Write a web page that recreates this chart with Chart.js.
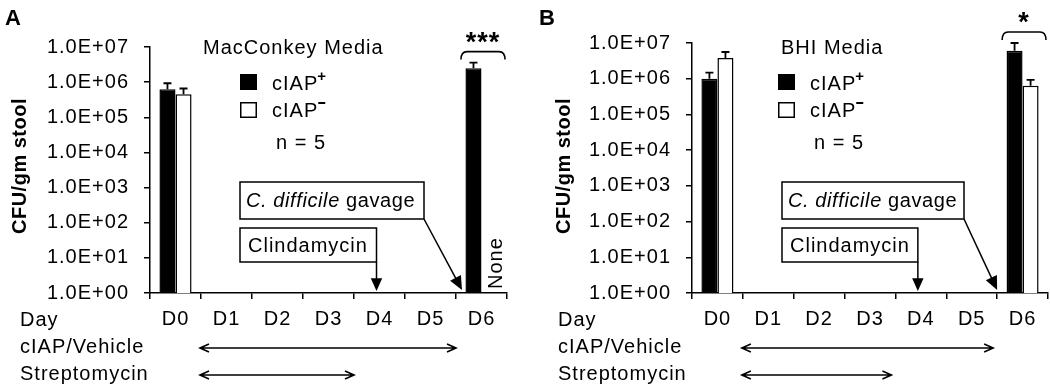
<!DOCTYPE html>
<html>
<head>
<meta charset="utf-8">
<script src="https://cdn.jsdelivr.net/npm/chart.js@4"></script>
<style>
  html, body { margin: 0; padding: 0; background: #fff; }
  #wrap { position: relative; width: 1050px; height: 387px; }
  canvas { position: absolute; top: 0; }
</style>
</head>
<body>
<div id="wrap">
  <canvas id="graficoA" width="536" height="387" style="left:0"></canvas>
  <canvas id="graficoB" width="514" height="387" style="left:536px"></canvas>
</div>
<script>
const days = ['D0', 'D1', 'D2', 'D3', 'D4', 'D5', 'D6'];
const yTicks = [1, 1e1, 1e2, 1e3, 1e4, 1e5, 1e6, 1e7];

// MacConkey (painel A)
const macPlus = [6.3e5, null, null, null, null, null, 2.5e6];
const macPlusSem = [3.0e5, null, null, null, null, null, 1.1e6];
const macMinus = [4.5e5, null, null, null, null, null, null];
const macMinusSem = [2.1e5, null, null, null, null, null, null];

// BHI (painel B)
const bhiPlus = [1.0e6, null, null, null, null, null, 6.1e6];
const bhiPlusSem = [4.8e5, null, null, null, null, null, 3.9e6];
const bhiMinus = [3.8e6, null, null, null, null, null, 6.4e5];
const bhiMinusSem = [1.8e6, null, null, null, null, null, 2.9e5];

const fonte = 'Arial, "Liberation Sans", sans-serif';

function setaCheia(ctx, x1, y1, x2, y2, tam) {
    const ang = Math.atan2(y2 - y1, x2 - x1);
    ctx.beginPath();
    ctx.moveTo(x1, y1);
    ctx.lineTo(x2 - Math.cos(ang) * tam * 0.8, y2 - Math.sin(ang) * tam * 0.8);
    ctx.stroke();
    ctx.beginPath();
    ctx.moveTo(x2, y2);
    ctx.lineTo(x2 - tam * Math.cos(ang - 0.42), y2 - tam * Math.sin(ang - 0.42));
    ctx.lineTo(x2 - tam * Math.cos(ang + 0.42), y2 - tam * Math.sin(ang + 0.42));
    ctx.closePath();
    ctx.fill();
}

function setaDupla(ctx, x1, x2, y) {
    ctx.beginPath();
    ctx.moveTo(x1, y); ctx.lineTo(x2, y);
    ctx.moveTo(x1 + 9, y - 4); ctx.lineTo(x1, y); ctx.lineTo(x1 + 9, y + 4);
    ctx.moveTo(x2 - 9, y - 4); ctx.lineTo(x2, y); ctx.lineTo(x2 - 9, y + 4);
    ctx.stroke();
}

function desenhos(cfg) {
    return {
        id: 'desenhos',
        beforeDraw(chart) {
            chart.ctx.letterSpacing = '1px';
        },
        afterDatasetsDraw(chart) {
            // barras de erro (só para cima)
            const { ctx, scales: { y } } = chart;
            ctx.save();
            ctx.strokeStyle = '#000';
            ctx.lineWidth = 1.8;
            [cfg.sem[0], cfg.sem[1]].forEach((sem, i) => {
                const meta = chart.getDatasetMeta(i);
                const vals = chart.data.datasets[i].data;
                meta.data.forEach((el, j) => {
                    if (vals[j] == null || sem[j] == null) return;
                    const yt = y.getPixelForValue(vals[j] + sem[j]);
                    ctx.beginPath();
                    ctx.moveTo(el.x, el.y); ctx.lineTo(el.x, yt);
                    ctx.moveTo(el.x - 4, yt); ctx.lineTo(el.x + 4, yt);
                    ctx.stroke();
                });
            });
            ctx.restore();
        },
        afterDraw(chart) {
            const { ctx, chartArea: a, scales: { x, y } } = chart;
            const L = a.left;
            const bound = i => (x.getPixelForValue(i) + x.getPixelForValue(i + 1)) / 2;
            ctx.save();
            ctx.letterSpacing = '1px';
            ctx.fillStyle = '#000';
            ctx.strokeStyle = '#000';

            // letra do painel
            ctx.font = 'bold 22px ' + fonte;
            ctx.textBaseline = 'middle';
            ctx.textAlign = 'left';
            ctx.fillText(cfg.letra, cfg.letraX, 19);

            // título eixo y
            ctx.save();
            ctx.letterSpacing = '0.5px';
            ctx.translate(cfg.yTitleX, 166);
            ctx.rotate(-Math.PI / 2);
            ctx.textAlign = 'center';
            ctx.font = 'bold 20px ' + fonte;
            ctx.fillText('CFU/gm stool', 0, 0);
            ctx.restore();

            // título e legenda
            ctx.font = '20px ' + fonte;
            ctx.fillText(cfg.titulo, L + cfg.tituloX, 48);
            const lx = L + cfg.legX;
            ctx.fillRect(lx, 74, 17, 16);
            ctx.lineWidth = 1.5;
            ctx.strokeRect(lx + 0.75, 102.75, 15.5, 14.5);
            ctx.fillText('cIAP', lx + 32, 84);
            ctx.fillText('cIAP', lx + 32, 111);
            const w = ctx.measureText('cIAP').width;
            ctx.font = 'bold 15px ' + fonte;
            ctx.fillText('+', lx + 31 + w, 77);
            ctx.fillRect(lx + 32 + w, 102, 7, 2);
            ctx.font = '20px ' + fonte;
            ctx.fillText('n = 5', lx + 36, 143);

            // caixas
            const xClin = x.getPixelForValue(4) - 3;
            const bx = L + 90;
            const gRight = L + cfg.gavDir;
            ctx.lineWidth = 1.5;
            ctx.strokeRect(bx, 182, gRight - bx, 37);
            ctx.strokeRect(bx, 228, xClin - bx, 34);
            ctx.letterSpacing = '0.6px';
            ctx.font = 'italic 20px ' + fonte;
            ctx.fillText('C. difficile', bx + 6, 201);
            const wi = ctx.measureText('C. difficile ').width;
            ctx.font = '20px ' + fonte;
            ctx.fillText('gavage', bx + 6 + wi, 201);
            ctx.letterSpacing = '1px';
            ctx.fillText('Clindamycin', bx + 8, 246);

            ctx.lineWidth = 1.5;
            setaCheia(ctx, xClin, 262, xClin, 291, 14);
            setaCheia(ctx, gRight, 219, bound(5) + cfg.gavTip, 290, 15);

            // chave + asteriscos
            const e = y.getPixelForValue(chart.data.datasets[0].data[6] + cfg.sem[0][6]);
            const yb = e - 3, yt = yb - 8;
            const b1 = bound(5) + 5, b2 = a.right - 2;
            ctx.lineWidth = 1.6;
            ctx.beginPath();
            ctx.moveTo(b1, yb);
            ctx.quadraticCurveTo(b1, yt, b1 + 6, yt);
            ctx.lineTo(b2 - 6, yt);
            ctx.quadraticCurveTo(b2, yt, b2, yb);
            ctx.stroke();
            ctx.font = 'bold 27px ' + fonte;
            ctx.textAlign = 'center';
            ctx.fillText(cfg.estrelas, (b1 + b2) / 2, yt - 8);

            // "None"
            if (cfg.none) {
                ctx.save();
                ctx.translate(x.getPixelForValue(6) + 15, a.bottom - 4);
                ctx.rotate(-Math.PI / 2);
                ctx.textAlign = 'left';
                ctx.font = '20px ' + fonte;
                ctx.fillText('None', 0, 0);
                ctx.restore();
            }

            // linhas de tratamento
            ctx.textAlign = 'left';
            ctx.font = '20px ' + fonte;
            ctx.fillText('Day', cfg.rowX, 320);
            ctx.fillText('cIAP/Vehicle', cfg.rowX, 347);
            ctx.fillText('Streptomycin', cfg.rowX, 374);
            ctx.lineWidth = 1.6;
            setaDupla(ctx, bound(0) - 1, bound(5) - cfg.setaEnc, 348);
            setaDupla(ctx, bound(0) - 1, bound(3) - cfg.setaEnc, 375);
            ctx.restore();
        }
    };
}

function painel(id, cfg) {
    return new Chart(document.getElementById(id), {
        type: 'bar',
        data: {
            labels: days,
            datasets: [
                { label: 'cIAP+', data: cfg.plus, backgroundColor: '#000', borderColor: '#000', borderWidth: 1.5 },
                { label: 'cIAP-', data: cfg.minus, backgroundColor: '#fff', borderColor: '#000', borderWidth: 1.5 }
            ]
        },
        options: {
            responsive: false,
            animation: false,
            categoryPercentage: 0.63,
            barPercentage: 1,
            layout: { padding: { left: 0, right: cfg.padDir, top: cfg.topo, bottom: 0 } },
            plugins: { legend: { display: false }, tooltip: { enabled: false } },
            scales: {
                x: {
                    type: 'category',
                    offset: true,
                    afterFit: s => { s.height = 94; },
                    grid: { display: true, offset: true, drawOnChartArea: false, drawTicks: true, tickLength: 6, color: '#000', lineWidth: 1.5 },
                    border: { display: true, color: '#000', width: 1.5 },
                    ticks: { color: '#000', padding: 8, font: { family: fonte, size: 20 } }
                },
                y: {
                    type: 'logarithmic',
                    min: 1,
                    max: 1e7,
                    afterFit: s => { s.width = cfg.yLarg; },
                    afterBuildTicks: s => { s.ticks = yTicks.map(v => ({ value: v })); },
                    grid: { display: true, drawOnChartArea: false, drawTicks: true, tickLength: 6, color: '#000', lineWidth: 1.5 },
                    border: { display: true, color: '#000', width: 1.5 },
                    ticks: {
                        color: '#000',
                        padding: 15,
                        font: { family: fonte, size: 20 },
                        callback: v => '1.0E+' + String(Math.round(Math.log10(v))).padStart(2, '0')
                    }
                }
            }
        },
        plugins: [desenhos(cfg)]
    });
}

painel('graficoA', {
    plus: macPlus, minus: macMinus, sem: [macPlusSem, macMinusSem],
    letra: 'A', letraX: 5, yTitleX: 20, titulo: 'MacConkey Media', tituloX: 53, legX: 90,
    gavDir: 274, gavTip: 6, estrelas: '***', none: true, rowX: 20, setaEnc: 0,
    padDir: 29, topo: 47, yLarg: 150
});

painel('graficoB', {
    plus: bhiPlus, minus: bhiMinus, sem: [bhiPlusSem, bhiMinusSem],
    letra: 'B', letraX: 3, yTitleX: 28, titulo: 'BHI Media', tituloX: 89, legX: 86,
    gavDir: 272, gavTip: 0, estrelas: '*', none: false, rowX: 22, setaEnc: 4,
    padDir: 2, topo: 43, yLarg: 156
});
</script>
</body>
</html>
